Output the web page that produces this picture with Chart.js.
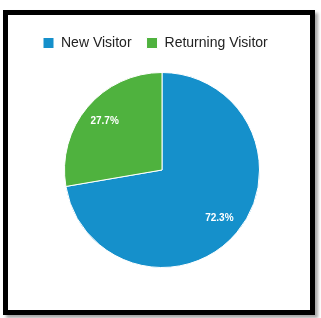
<!DOCTYPE html>
<html>
<head>
<meta charset="utf-8">
<script src="https://cdn.jsdelivr.net/npm/chart.js@4/dist/chart.umd.min.js"></script>
<style>
  html, body { margin: 0; padding: 0; background: #fff; }
  #frame {
    position: absolute; left: 3px; top: 10px;
    width: 302px; height: 295px;
    border: 5px solid #000;
    box-shadow: 3px 3px 3px rgba(0,0,0,0.35);
  }
  #wrap { position: absolute; left: 0; top: 0; width: 321px; height: 318px; }
</style>
</head>
<body>
<div id="frame"></div>
<div id="wrap"><canvas id="chartCanvas" width="321" height="318"></canvas></div>
<script>
var besoegstyper = ["New Visitor", "Returning Visitor"];
var procenter = [72.3, 27.7];
var farver = ["#1590CB", "#4FB23E"];

// skriver procenten inde i hvert stykke
var procentLabels = {
    id: "procentLabels",
    afterDatasetsDraw: function (chart) {
        var ctx = chart.ctx;
        var meta = chart.getDatasetMeta(0);
        ctx.save();
        ctx.font = "bold 10px 'Liberation Sans', Arial, sans-serif";
        ctx.fillStyle = "#fff";
        ctx.textAlign = "center";
        ctx.textBaseline = "middle";
        meta.data.forEach(function (bue, i) {
            var p = bue.getProps(["x", "y", "startAngle", "endAngle", "outerRadius"], true);
            var midt = (p.startAngle + p.endAngle) / 2;
            var r = p.outerRadius * 0.77;
            ctx.fillText(procenter[i].toFixed(1) + "%", p.x + Math.cos(midt) * r, p.y + Math.sin(midt) * r);
        });
        ctx.restore();
    }
};

// lidt luft under forklaringen
var legendLuft = {
    id: "legendLuft",
    beforeInit: function (chart) {
        var fit = chart.legend.fit;
        chart.legend.fit = function () {
            fit.bind(chart.legend)();
            this.height += 12;
        };
    }
};

var ctx = document.getElementById("chartCanvas");
var minPie = new Chart(ctx, {
    type: "pie",
    data: {
        labels: besoegstyper,
        datasets: [{
            data: procenter,
            backgroundColor: farver,
            borderColor: "#fff",
            borderWidth: 1
        }]
    },
    options: {
        responsive: false,
        animation: false,
        layout: { padding: { left: 28, right: 25, top: 21, bottom: 50 } },
        plugins: {
            tooltip: { enabled: false },
            legend: {
                position: "top",
                align: "start",
                labels: {
                    boxWidth: 11,
                    boxHeight: 11,
                    padding: 15,
                    color: "#222",
                    font: { family: "'Liberation Sans', Arial, sans-serif", size: 14 }
                }
            }
        }
    },
    plugins: [legendLuft, procentLabels]
});
</script>
</body>
</html>
